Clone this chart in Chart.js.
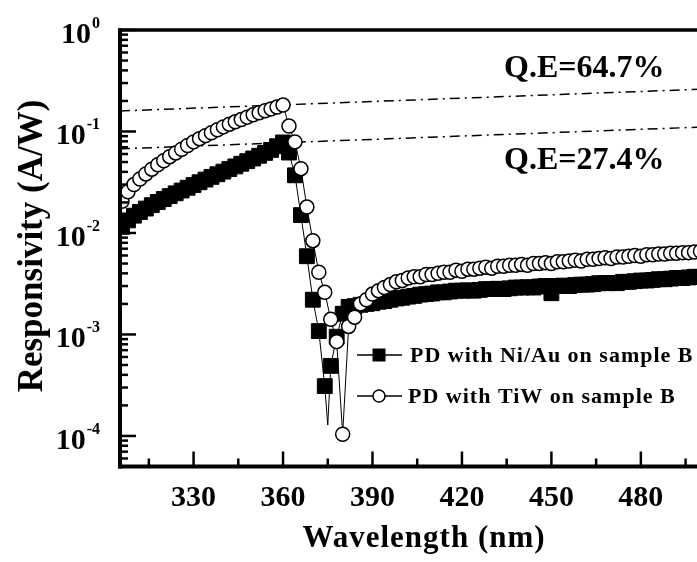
<!DOCTYPE html>
<html>
<head>
<meta charset="utf-8">
<title>Responsivity spectra</title>
<script src="https://cdn.jsdelivr.net/npm/chart.js@4.4.1/dist/chart.umd.min.js"></script>
<style>
  html, body { margin: 0; padding: 0; background: #fff; overflow: hidden; }
  #wrap { width: 697px; height: 562px; overflow: hidden; position: relative; }
  canvas { display: block; }
</style>
</head>
<body>
<div id="wrap"><canvas id="chart" width="712" height="562"></canvas></div>
<script>
// ---- Measured spectra (wavelength in nm, responsivity in A/W) ----
const niauWl = [
  306, 308, 310, 312, 314, 316, 318, 320, 322, 324, 326, 328, 330, 332, 334, 336, 338, 340,
  342, 344, 346, 348, 350, 352, 354, 356, 358, 360, 362, 364, 366, 368, 370, 372, 374, 375,
  376, 378, 380, 382, 384, 386, 388, 390, 392, 394, 396, 398, 400, 402, 404, 406, 408, 410,
  412, 414, 416, 418, 420, 422, 424, 426, 428, 430, 432, 434, 436, 438, 440, 442, 444, 446,
  448, 450, 452, 454, 456, 458, 460, 462, 464, 466, 468, 470, 472, 474, 476, 478, 480, 482,
  484, 486, 488, 490, 492, 494, 496, 498, 500
];
const niauResp = [
  0.0115, 0.0133, 0.0148, 0.0161, 0.0174, 0.0188, 0.0202, 0.0216, 0.0231, 0.0246, 0.0262, 0.0279,
  0.0297, 0.0316, 0.0336, 0.0357, 0.0379, 0.0402, 0.0427, 0.0453, 0.0481, 0.0510, 0.0542, 0.0577,
  0.0615, 0.0658, 0.0715, 0.0780, 0.0620, 0.0370, 0.0150, 0.0059, 0.0022, 0.00108, 0.00031, 0.000128,
  0.00049, 0.00095, 0.0016, 0.00187, 0.0019, 0.00196, 0.0020, 0.00203, 0.0021, 0.00213, 0.0022, 0.00226,
  0.0023, 0.00236, 0.0024, 0.00247, 0.0025, 0.00253, 0.0026, 0.0026, 0.00265, 0.0027, 0.0027, 0.00272,
  0.0027, 0.00275, 0.0028, 0.0028, 0.00282, 0.0028, 0.00285, 0.0029, 0.0029, 0.00292, 0.0029, 0.00297,
  0.0030, 0.00255, 0.0030, 0.00303, 0.0030, 0.00307, 0.0031, 0.0031, 0.00313, 0.0032, 0.0032, 0.00322,
  0.0032, 0.0033, 0.0033, 0.00335, 0.0034, 0.0034, 0.00345, 0.0035, 0.0035, 0.00355, 0.0036, 0.0036,
  0.00365, 0.0037, 0.0037
];

const tiwWl = [
  306, 308, 310, 312, 314, 316, 318, 320, 322, 324, 326, 328, 330, 332, 334, 336, 338, 340,
  342, 344, 346, 348, 350, 352, 354, 356, 358, 360, 362, 364, 366, 368, 370, 372, 374, 376,
  378, 380, 382, 384, 386, 388, 390, 392, 394, 396, 398, 400, 402, 404, 406, 408, 410, 412,
  414, 416, 418, 420, 422, 424, 426, 428, 430, 432, 434, 436, 438, 440, 442, 444, 446, 448,
  450, 452, 454, 456, 458, 460, 462, 464, 466, 468, 470, 472, 474, 476, 478, 480, 482, 484,
  486, 488, 490, 492, 494, 496, 498, 500
];
const tiwResp = [
  0.0205, 0.0255, 0.0300, 0.0340, 0.0382, 0.0425, 0.0470, 0.0515, 0.0565, 0.0615, 0.0668, 0.0727,
  0.0790, 0.0850, 0.0910, 0.0970, 0.1040, 0.1110, 0.1180, 0.1245, 0.1310, 0.1385, 0.1460, 0.1530,
  0.1600, 0.1670, 0.1740, 0.1820, 0.1130, 0.0790, 0.0430, 0.0180, 0.0084, 0.0041, 0.0026, 0.00141,
  0.00085, 0.000104, 0.0012, 0.00148, 0.0020, 0.0022, 0.0025, 0.0027, 0.0029, 0.0031, 0.0033, 0.0034,
  0.0036, 0.0037, 0.0037, 0.0039, 0.0039, 0.0040, 0.0041, 0.0041, 0.0043, 0.0042, 0.0044, 0.0044,
  0.0045, 0.0046, 0.0045, 0.0047, 0.0047, 0.0048, 0.0048, 0.0049, 0.0048, 0.0050, 0.0050, 0.0051,
  0.0050, 0.0052, 0.0052, 0.0053, 0.0054, 0.0053, 0.0055, 0.0055, 0.0056, 0.0057, 0.0056, 0.0058,
  0.0058, 0.0059, 0.0060, 0.0059, 0.0061, 0.0061, 0.0062, 0.0062, 0.0063, 0.0063, 0.0064, 0.0064,
  0.0065, 0.0066
];

const seriesNames = ['PD with Ni/Au on sample B', 'PD with TiW on sample B'];

// Constant quantum-efficiency reference lines: R = QE * lambda / 1240
const qeValues = [0.647, 0.274];
const qeLabels = ['Q.E=64.7%', 'Q.E=27.4%'];

// Axis ticks
const xMajorTicks = [330, 360, 390, 420, 450, 480];
const yDecadeExponents = [0, -1, -2, -3, -4];

const X_MIN = 305.33, X_MAX = 500;
const Y_MIN = 5e-5, Y_MAX = 1;

const SERIF = '"Liberation Serif", "Times New Roman", serif';

const toPoints = (xs, ys) => xs.map((x, i) => ({ x, y: ys[i] }));
const qeLine = q => [{ x: X_MIN, y: q * X_MIN / 1240 }, { x: X_MAX, y: q * X_MAX / 1240 }];

// Frame, inward ticks, tick labels, titles, annotations and legend
const decorations = {
  id: 'decorations',
  afterDraw(chart) {
    const { ctx, chartArea: a, scales: { x, y } } = chart;
    const seg = (x1, y1, x2, y2) => { ctx.beginPath(); ctx.moveTo(x1, y1); ctx.lineTo(x2, y2); ctx.stroke(); };
    ctx.save();
    ctx.strokeStyle = '#000';
    ctx.fillStyle = '#000';
    ctx.lineCap = 'butt';

    // y ticks: decades long, 2..9 short
    ctx.lineWidth = 2.5;
    for (let e = -5; e <= 0; e++) {
      for (let m = 1; m <= 9; m++) {
        const v = m * Math.pow(10, e);
        if (v < Y_MIN * 0.999 || v > Y_MAX * 1.001) continue;
        const py = y.getPixelForValue(v);
        seg(a.left, py, a.left + (m === 1 ? 16 : 8), py);
      }
    }
    // x ticks: labelled majors, minors halfway between
    const majorStep = xMajorTicks[1] - xMajorTicks[0];
    for (let v = xMajorTicks[0] - majorStep / 2; v <= X_MAX; v += majorStep / 2) {
      if (v < X_MIN) continue;
      const px = x.getPixelForValue(v);
      const isMajor = (v - xMajorTicks[0]) % majorStep === 0;
      seg(px, a.bottom, px, a.bottom - (isMajor ? 15 : 8));
    }

    // axis lines
    ctx.lineWidth = 4;
    seg(a.left, a.top - 1.5, a.left, a.bottom + 2);
    seg(a.left - 2, a.bottom, a.right + 10, a.bottom);
    ctx.lineWidth = 3.5;
    seg(a.left - 2, a.top, a.right + 10, a.top);

    // x tick labels
    ctx.font = 'bold 30px ' + SERIF;
    ctx.textAlign = 'center';
    ctx.textBaseline = 'alphabetic';
    xMajorTicks.forEach(v => ctx.fillText(String(v), x.getPixelForValue(v), 506));

    // y tick labels: 10 with a raised exponent
    yDecadeExponents.forEach(e => {
      const py = y.getPixelForValue(Math.pow(10, e));
      const sup = String(e);
      ctx.font = 'bold 16px ' + SERIF;
      const supW = ctx.measureText(sup).width;
      ctx.font = 'bold 30px ' + SERIF;
      const baseW = ctx.measureText('10').width;
      const right = 100;
      ctx.textAlign = 'left';
      ctx.fillText('10', right - supW - baseW - 1, py + 13);
      ctx.font = 'bold 16px ' + SERIF;
      ctx.fillText(sup, right - supW, py - 2);
    });

    // axis titles
    ctx.textAlign = 'center';
    ctx.font = 'bold 31px ' + SERIF;
    ctx.letterSpacing = '1px';
    ctx.fillText('Wavelength (nm)', 424, 547);
    ctx.letterSpacing = '0px';
    ctx.save();
    ctx.translate(42, 246);
    ctx.rotate(-Math.PI / 2);
    ctx.font = 'bold 35px ' + SERIF;
    ctx.fillText('Responsivity (A/W)', 0, 0);
    ctx.restore();

    // quantum-efficiency labels
    ctx.textAlign = 'left';
    ctx.font = 'bold 32px ' + SERIF;
    ctx.fillText(qeLabels[0], 504, 77);
    ctx.fillText(qeLabels[1], 504, 169);

    // legend
    const rows = [355, 396];
    const names = chart.data.datasets.slice(0, 2).map(d => d.label);
    ctx.lineWidth = 1.5;
    rows.forEach((ry, i) => {
      seg(357, ry, 402, ry);
      if (i === 0) {
        ctx.fillRect(379 - 6.5, ry - 6.5, 13, 13);
      } else {
        ctx.beginPath();
        ctx.arc(379, ry, 6, 0, Math.PI * 2);
        ctx.fillStyle = '#fff';
        ctx.fill();
        ctx.stroke();
        ctx.fillStyle = '#000';
      }
      ctx.font = 'bold 22px ' + SERIF;
      ctx.letterSpacing = '1px';
      ctx.fillText(names[i], i === 0 ? 410 : 408, ry + 7);
      ctx.letterSpacing = '0px';
    });
    ctx.restore();
  }
};

new Chart(document.getElementById('chart'), {
  type: 'line',
  data: {
    datasets: [
      {
        label: seriesNames[0],
        data: toPoints(niauWl, niauResp),
        borderColor: '#000',
        borderWidth: 1,
        pointStyle: 'rect',
        // markers sit on the 2 nm measurement grid
        pointRadius: c => (c.raw && c.raw.x % 2 === 0 ? 10.5 : 0),
        pointBackgroundColor: '#000',
        pointBorderColor: '#000',
        pointBorderWidth: 1,
        order: 2
      },
      {
        label: seriesNames[1],
        data: toPoints(tiwWl, tiwResp),
        borderColor: '#000',
        borderWidth: 1,
        pointStyle: 'circle',
        pointRadius: 7,
        pointBackgroundColor: '#fff',
        pointBorderColor: '#000',
        pointBorderWidth: 1.5,
        order: 1
      },
      ...qeValues.map((q, i) => ({
        label: qeLabels[i],
        data: qeLine(q),
        borderColor: '#000',
        borderWidth: 1.5,
        borderDash: [10, 5, 2, 5],
        pointRadius: 0,
        order: 3
      }))
    ]
  },
  options: {
    responsive: false,
    animation: false,
    events: [],
    layout: { padding: { left: 120, right: 8, top: 30, bottom: 95.5 } },
    plugins: { legend: { display: false }, tooltip: { enabled: false } },
    elements: { line: { tension: 0 } },
    scales: {
      x: {
        type: 'linear', min: X_MIN, max: X_MAX,
        ticks: { display: false }, grid: { display: false }, border: { display: false },
        afterFit: s => { s.height = 0; }
      },
      y: {
        type: 'logarithmic', min: Y_MIN, max: Y_MAX,
        ticks: { display: false }, grid: { display: false }, border: { display: false },
        afterFit: s => { s.width = 0; }
      }
    }
  },
  plugins: [decorations]
});
</script>
</body>
</html>
